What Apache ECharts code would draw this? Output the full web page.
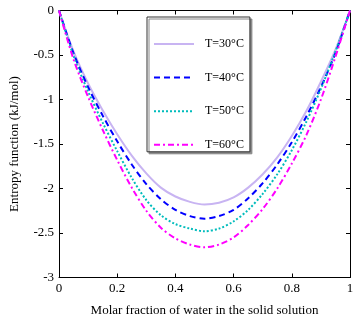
<!DOCTYPE html>
<html lang="en">
<head>
	<meta charset="UTF-8">
	<title>entropy_function</title>
	<script type="text/javascript" src="https://cdn.jsdelivr.net/npm/echarts@6/dist/echarts.min.js"></script>
</head>
<body style="margin:0;background:#fff;">
<div id="entropyChart" style="width: 358px;height: 323px"></div>

<script type="text/javascript">
    // molar fraction of water (x axis)
    var xFrac = [0, 0.05, 0.1, 0.15, 0.2, 0.25, 0.3, 0.35, 0.4, 0.45, 0.5,
                 0.55, 0.6, 0.65, 0.7, 0.75, 0.8, 0.85, 0.9, 0.95, 1];
    // entropy function values (kJ/mol)
    var s30 = [0, -0.46, -0.82, -1.12, -1.39, -1.63, -1.83, -1.99, -2.09, -2.15, -2.18,
               -2.16, -2.10, -1.99, -1.84, -1.65, -1.41, -1.13, -0.80, -0.44, 0];
    var s40 = [0, -0.48, -0.86, -1.18, -1.47, -1.73, -1.95, -2.12, -2.24, -2.31, -2.34,
               -2.31, -2.24, -2.11, -1.94, -1.73, -1.48, -1.19, -0.86, -0.48, 0];
    var s50 = [0, -0.51, -0.91, -1.26, -1.58, -1.88, -2.13, -2.30, -2.40, -2.45, -2.48,
               -2.45, -2.37, -2.24, -2.06, -1.84, -1.57, -1.25, -0.88, -0.46, 0];
    var s60 = [0, -0.55, -0.97, -1.34, -1.68, -1.99, -2.25, -2.44, -2.56, -2.63, -2.66,
               -2.63, -2.55, -2.41, -2.23, -2.00, -1.72, -1.40, -1.00, -0.52, 0];
    var seriesNames = ['T=30°C', 'T=40°C', 'T=50°C', 'T=60°C'];
    var xTicks = ['0', '0.2', '0.4', '0.6', '0.8', '1'];

    var font = 'Liberation Serif';

    var pairs = function(ys){
        var res = [];
        for (var i = 0; i < xFrac.length; i++) {
            res.push([xFrac[i], ys[i]]);
        }
        return res;
    };

    var makeLine = function(name, ys, color, type){
        return {
            name: name,
            type: 'line',
            smooth: 0.3,
            showSymbol: false,
            symbol: 'none',
            lineStyle: { color: color, width: 2, type: type },
            itemStyle: { color: color },
            data: pairs(ys)
        };
    };

    var chart = echarts.init(document.getElementById('entropyChart'));

    var axisCommon = {
        type: 'value',
        axisLine: { show: true, onZero: false, lineStyle: { color: '#000', width: 1 } },
        axisTick: { show: true, inside: true, length: 4, lineStyle: { color: '#000' } },
        splitLine: { show: false }
    };

    var option = {
        animation: false,
        grid: { left: 57, right: 8, top: 10.5, bottom: 45.5 },
        legend: {
            data: seriesNames,
            orient: 'vertical',
            left: 147,
            top: 17,
            itemWidth: 40,
            itemHeight: 14,
            itemGap: 21.6,
            padding: [21, 6, 1, 6],
            borderColor: '#333',
            borderWidth: 1,
            backgroundColor: '#fff',
            shadowColor: '#888',
            shadowOffsetX: 2,
            shadowOffsetY: 2,
            shadowBlur: 0,
            itemStyle: { opacity: 0 },
            textStyle: { fontFamily: font, fontSize: 12, color: '#000', padding: [0, 0, 0, 6] }
        },
        xAxis: [
            Object.assign({}, axisCommon, {
                min: 0, max: 1, interval: 0.2,
                position: 'bottom',
                name: 'Molar fraction of water in the solid solution',
                nameLocation: 'middle',
                nameGap: 27,
                nameTextStyle: { fontFamily: font, fontSize: 13, color: '#000' },
                axisLabel: {
                    margin: 5, fontFamily: font, fontSize: 13, color: '#000',
                    formatter: function(v){ return xTicks[Math.round(v / 0.2)]; }
                }
            }),
            Object.assign({}, axisCommon, {
                min: 0, max: 1, interval: 0.2,
                position: 'top',
                axisLabel: { show: false }
            })
        ],
        yAxis: [
            Object.assign({}, axisCommon, {
                min: -3, max: 0, interval: 0.5,
                position: 'left',
                name: 'Entropy function (kJ/mol)',
                nameLocation: 'middle',
                nameGap: 38,
                nameTextStyle: { fontFamily: font, fontSize: 13, color: '#000' },
                axisLabel: { margin: 5, fontFamily: font, fontSize: 13, color: '#000' }
            }),
            Object.assign({}, axisCommon, {
                min: -3, max: 0, interval: 0.5,
                position: 'right',
                axisLabel: { show: false }
            })
        ],
        series: [
            makeLine(seriesNames[0], s30, '#c8b4f2', 'solid'),
            makeLine(seriesNames[1], s40, '#0000ff', [6, 4]),
            makeLine(seriesNames[2], s50, '#00bcbc', [2, 2]),
            makeLine(seriesNames[3], s60, '#ff00ff', [6, 3, 2, 3])
        ]
    };

    chart.setOption(option);
</script>
</body>
</html>
